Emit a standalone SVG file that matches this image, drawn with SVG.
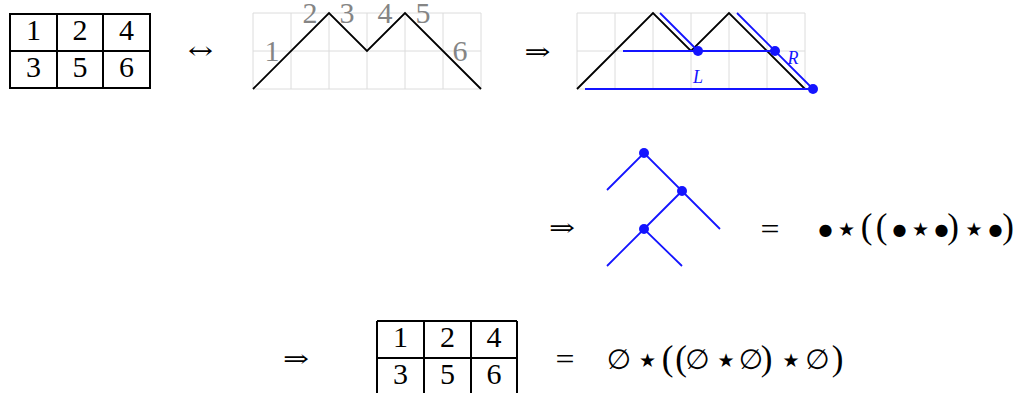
<svg xmlns="http://www.w3.org/2000/svg" width="1015" height="393" viewBox="0 0 1015 393">
<style>
.tbl{fill:none;stroke:#000;stroke-width:2}
.num{font-family:"Liberation Serif",serif;font-size:30px;text-anchor:middle;fill:#000}
.grid{stroke:#dcdcdc;stroke-width:1;fill:none}
.blk{stroke:#000;stroke-width:1.8;fill:none;stroke-linejoin:miter}
.lbl{font-family:"Liberation Serif",serif;font-size:30px;text-anchor:middle;fill:#858585}
.blue{stroke:#1414ff;stroke-width:1.8;fill:none}
.dot{fill:#1414ff}
.it{font-family:"Liberation Serif",serif;font-style:italic;font-size:18px;fill:#1414ff;text-anchor:middle}
.op{font-family:"DejaVu Serif",serif;font-size:24px;fill:#000;text-anchor:middle}
.eq{font-family:"Liberation Serif",serif;font-size:30px;fill:#000;text-anchor:middle}
.bul{font-family:"DejaVu Sans",sans-serif;font-size:16px;fill:#000;text-anchor:middle}
.star{font-family:"DejaVu Sans",sans-serif;font-size:19px;fill:#000;text-anchor:middle}
.par{font-family:"Liberation Serif",serif;font-size:35px;fill:#000;text-anchor:middle}
.emp{font-family:"DejaVu Sans",sans-serif;font-size:28px;fill:#000;text-anchor:middle}
</style>
<defs>
<g id="gridcells">
<path class="grid" d="M0 0H228M0 38H228M0 76H228M0 0V76M38 0V76M76 0V76M114 0V76M152 0V76M190 0V76M228 0V76"/>
</g>
</defs>

<g id="table1">
<rect class="tbl" x="10" y="14" width="140" height="74"/>
<path class="tbl" d="M57 14V88M103 14V88M10 51H150"/>
<text class="num" x="33.5" y="40">1</text>
<text class="num" x="80" y="40">2</text>
<text class="num" x="126.5" y="40">4</text>
<text class="num" x="33.5" y="77">3</text>
<text class="num" x="80" y="77">5</text>
<text class="num" x="126.5" y="77">6</text>
</g>

<g id="arrow1"><text class="op" x="200.5" y="59" textLength="25" lengthAdjust="spacingAndGlyphs">↔</text></g>

<g id="dyck">
<use href="#gridcells" x="253" y="13"/>
<path class="blk" d="M253 89L329 13L367 51L405 13L481 89"/>
<text class="lbl" x="272" y="61">1</text>
<text class="lbl" x="310" y="23">2</text>
<text class="lbl" x="347" y="23">3</text>
<text class="lbl" x="385" y="23">4</text>
<text class="lbl" x="423" y="23">5</text>
<text class="lbl" x="460" y="61">6</text>
</g>

<g id="arrow2"><text class="op" x="537.5" y="60" textLength="26" lengthAdjust="spacingAndGlyphs">⇒</text></g>

<g id="decomp">
<use href="#gridcells" x="577" y="13"/>
<path class="blk" d="M577 89L653 13L691 51L729 13L805 89"/>
<path class="blue" d="M660 13L698 51M737 13L813 89M623 51H775M585 89H813"/>
<circle class="dot" cx="698" cy="51" r="5"/>
<circle class="dot" cx="775" cy="51" r="5"/>
<circle class="dot" cx="813" cy="89" r="5"/>
<text class="it" x="698" y="83">L</text>
<text class="it" x="793" y="64">R</text>
</g>

<g id="arrow3"><text class="op" x="562" y="236" textLength="26" lengthAdjust="spacingAndGlyphs">⇒</text></g>

<g id="tree">
<path class="blue" d="M607 190L644 153L720 229M682 191L644 229M607 266L644 229L682 266"/>
<circle class="dot" cx="644" cy="153" r="5"/>
<circle class="dot" cx="682" cy="191" r="5"/>
<circle class="dot" cx="644" cy="229" r="5"/>
</g>

<g id="formula1">
<text class="eq" x="770" y="239" textLength="19" lengthAdjust="spacingAndGlyphs">=</text>
<text class="bul" x="825.5" y="234.5">●</text>
<text class="star" x="846.5" y="236">★</text>
<text class="par" x="866.5" y="238">(</text>
<text class="par" x="881.5" y="238">(</text>
<text class="bul" x="899.5" y="234.5">●</text>
<text class="star" x="920.5" y="236">★</text>
<text class="bul" x="941.5" y="234.5">●</text>
<text class="par" x="953" y="238">)</text>
<text class="star" x="974" y="236">★</text>
<text class="bul" x="995.5" y="234.5">●</text>
<text class="par" x="1008" y="238">)</text>
</g>

<g id="arrow4"><text class="op" x="296" y="367" textLength="26" lengthAdjust="spacingAndGlyphs">⇒</text></g>

<g id="table2">
<path class="tbl" d="M377 321H517M377 358H517M377 395H517M377 321V395M424 321V395M471 321V395M517 321V395"/>
<text class="num" x="400.5" y="347">1</text>
<text class="num" x="447.5" y="347">2</text>
<text class="num" x="494" y="347">4</text>
<text class="num" x="400.5" y="384">3</text>
<text class="num" x="447.5" y="384">5</text>
<text class="num" x="494" y="384">6</text>
</g>

<g id="formula2">
<text class="eq" x="565" y="369" textLength="19" lengthAdjust="spacingAndGlyphs">=</text>
<text class="emp" x="619" y="369">∅</text>
<text class="star" x="647.5" y="367">★</text>
<text class="par" x="667.5" y="370">(</text>
<text class="par" x="681" y="370">(</text>
<text class="emp" x="697.5" y="369">∅</text>
<text class="star" x="726" y="367">★</text>
<text class="emp" x="751" y="369">∅</text>
<text class="par" x="766.5" y="370">)</text>
<text class="star" x="791" y="367">★</text>
<text class="emp" x="817.5" y="369">∅</text>
<text class="par" x="837.5" y="370">)</text>
</g>
</svg>
